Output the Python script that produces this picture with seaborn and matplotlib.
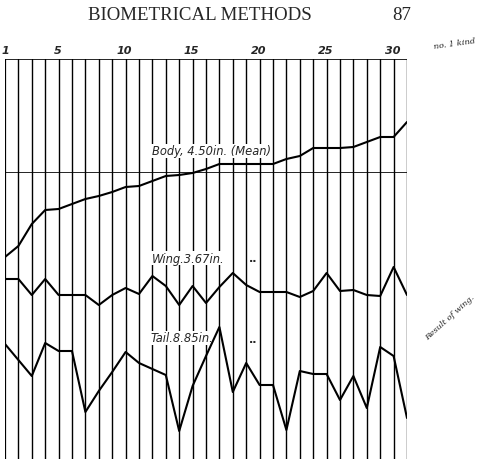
import numpy as np
import pandas as pd
import matplotlib
matplotlib.use("Agg")
import matplotlib.pyplot as plt
import seaborn as sns

# individuals 1..31, sorted by body length; heights (arbitrary units)
individuos = list(range(1, 32))
corpo = [202, 213, 235, 249, 250, 255, 260, 263, 267, 272, 273, 278, 283, 284, 286, 290,
         295, 295, 295, 295, 295, 300, 303, 311, 311, 311, 312, 317, 322, 322, 337]
asa = [180, 180, 164, 180, 164, 164, 164, 154, 164, 171, 165, 183, 173, 154, 173, 156,
       172, 186, 174, 167, 167, 167, 162, 168, 186, 168, 169, 164, 163, 192, 164]
cauda = [115, 99, 83, 116, 108, 108, 47, 68, 87, 107, 96, 90, 84, 28, 73, 103,
         132, 67, 96, 74, 74, 29, 88, 85, 85, 59, 83, 51, 112, 103, 41]
media_corpo = 287
marcas = [1, 5, 10, 15, 20, 25, 30]
rotulos = ["Body, 4.50in. (Mean)", "Wing.3.67in.", "Tail.8.85in."]

df = pd.DataFrame({"n": individuos, "Body": corpo, "Wing": asa, "Tail": cauda})
longo = df.melt(id_vars="n", var_name="parte", value_name="valor")

sns.set_style("white")
fig = plt.figure(figsize=(4.86, 4.60), dpi=100)
W, H = 486, 460
ax = fig.add_axes([5 / W, 0, (407 - 5) / W, (460 - 60) / H])

# vertical rulings, one per individual
for n in individuos:
    ax.axvline(n, color="black", lw=1.6 if n == 1 else 1.0, zorder=1)
ax.axhline(400, color="black", lw=1.2, zorder=1)
ax.plot([1, 31], [media_corpo, media_corpo], color="black", lw=0.6, zorder=1)

sns.lineplot(data=longo, x="n", y="valor", units="parte", estimator=None,
             color="black", lw=1.5, ax=ax, zorder=3)

ax.set_xlim(1, 31)
ax.set_ylim(0, 400)
ax.axis("off")

for m in marcas:
    ax.text(m + (0.05 if m == 1 else -0.1), 404, str(m), ha="center", va="bottom", fontsize=8,
            fontweight="bold", fontstyle="italic", family="DejaVu Sans")

caixa = dict(facecolor="white", edgecolor="none", pad=0.5)
estilo = dict(fontsize=8.3, fontstyle="italic", family="DejaVu Sans", ha="left",
              va="center", bbox=caixa, zorder=2)
ax.text(11.95, 308, rotulos[0], **estilo)
ax.text(11.95, 201, rotulos[1], **estilo)
ax.text(19.2, 201, "..", fontsize=8, fontweight="bold", ha="left", va="center", bbox=caixa, zorder=2)
ax.text(11.85, 121, rotulos[2], **estilo)
ax.text(19.2, 120, "..", fontsize=8, fontweight="bold", ha="left", va="center", bbox=caixa, zorder=2)

fig.text(200 / W, 1 - 16 / H, "BIOMETRICAL METHODS", ha="center", va="center",
         fontsize=13.6, family="Liberation Serif")
fig.text(402 / W, 1 - 16 / H, "87", ha="center", va="center",
         fontsize=13.6, family="Liberation Serif")
fig.text(455 / W, 1 - 44 / H, "no. 1 kind", ha="center", va="center",
         fontsize=6, fontstyle="italic", family="DejaVu Serif", rotation=8)
fig.text(450 / W, 1 - 318 / H, "Result of wing.", ha="center", va="center",
         fontsize=6, fontstyle="italic", family="DejaVu Serif", rotation=42)

fig.savefig("out.png", dpi=100)
